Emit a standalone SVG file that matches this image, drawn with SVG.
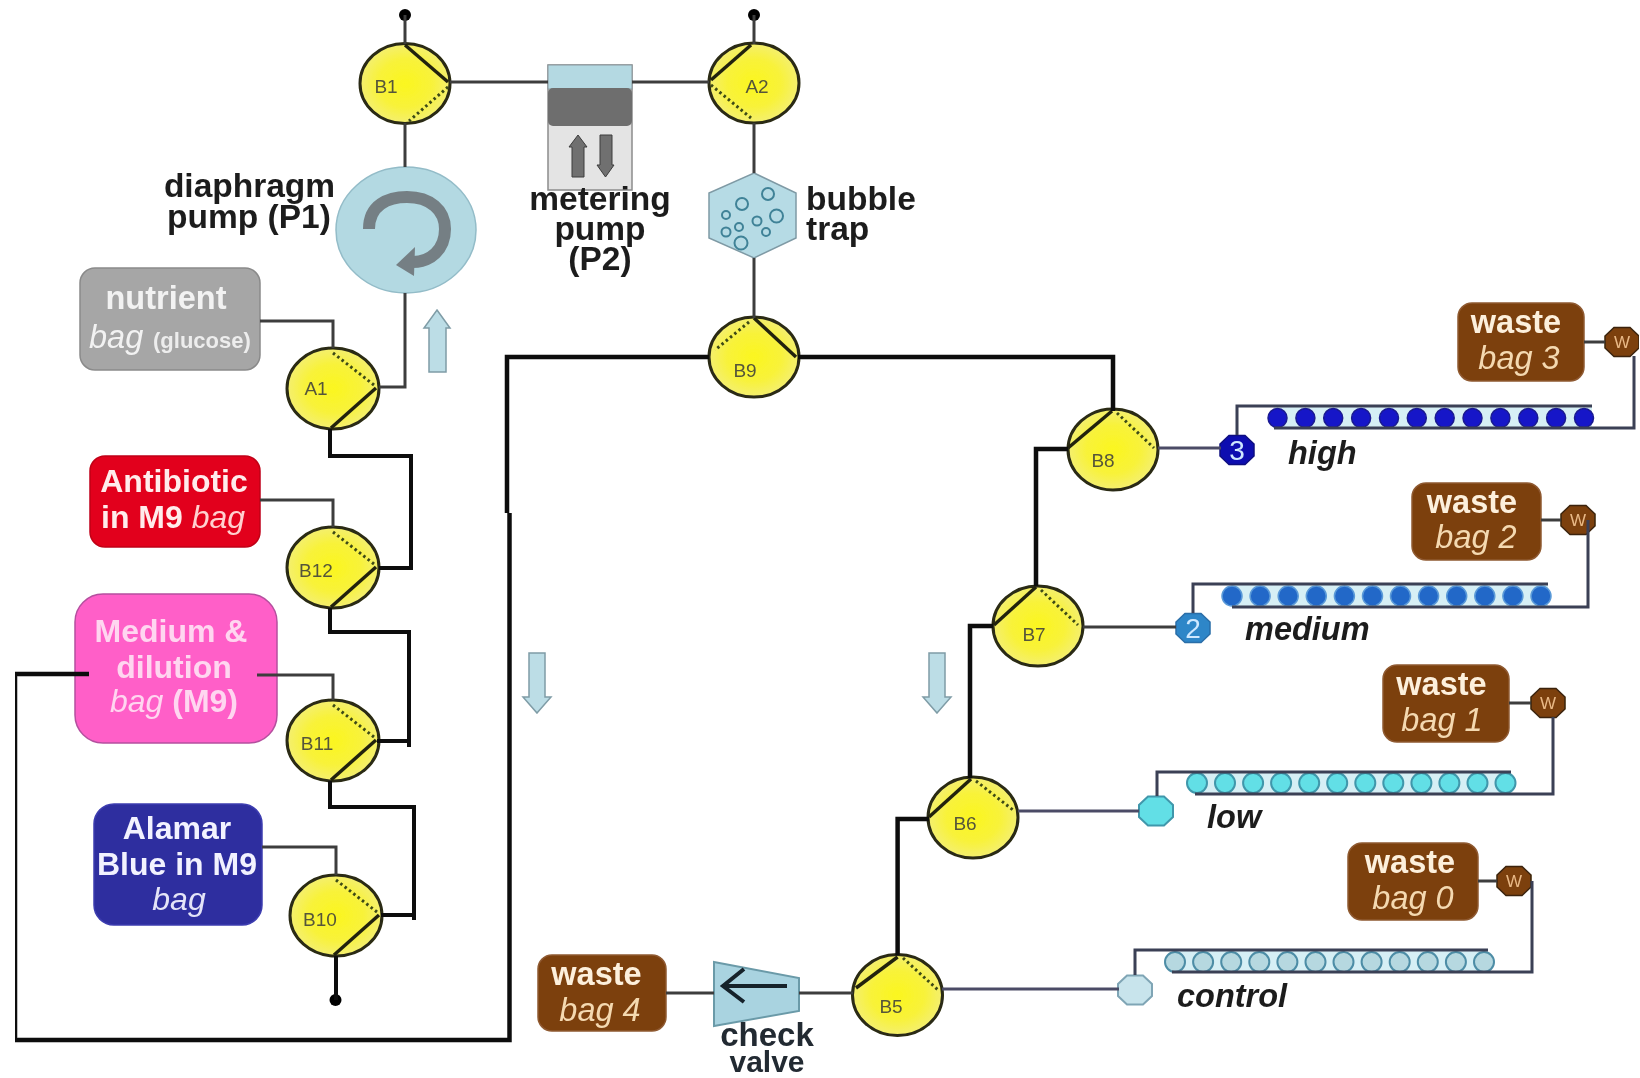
<svg xmlns="http://www.w3.org/2000/svg" width="1640" height="1078" viewBox="0 0 1640 1078">
<style>
text{font-family:"Liberation Sans",Arial,sans-serif}
.lb{font-weight:700;font-size:33.500px;fill:#1f1f1f}
.ct{text-anchor:middle}
.it{font-weight:700;font-style:italic;font-size:32.500px;fill:#1f1f1f}
.wh{font-weight:700;font-size:32.500px;fill:#fdf0dc;text-anchor:middle}
.bg{font-style:italic;font-size:32.500px;fill:#f4d9b0;text-anchor:middle}
.bag{fill:#7c3f10;stroke:#8f5a30;stroke-width:1.5}
.vc{fill:url(#vy);stroke:#2a2a12;stroke-width:3}
.vs{fill:none;stroke:#23240f;stroke-width:3.5}
.vd{fill:none;stroke:#3c4a14;stroke-width:3;stroke-dasharray:2.5 3}
.vt{font-size:19px;fill:#55553a;text-anchor:middle}
.th{fill:none;stroke:#3c3c3c;stroke-width:3}
.tp{fill:none;stroke:#4c4c66;stroke-width:3}
.tk{fill:none;stroke:#111;stroke-width:4.5}
.tm{fill:none;stroke:#111;stroke-width:4}
.bu{fill:none;stroke:#3f8297;stroke-width:2}
.fa{fill:#bcdde6;stroke:#7f9ca6;stroke-width:1.5}
.w{font-size:17px;fill:#e9b985;text-anchor:middle}
.n{font-size:28px;fill:#cfe8ff;text-anchor:middle}
.d3{fill:#1818c8;stroke:#1a1a90;stroke-width:1.5}
.d2{fill:#2468c8;stroke:#5a9ad8;stroke-width:1.5}
.d1{fill:#62dfe6;stroke:#3f97ab;stroke-width:2}
.d0{fill:#b6d8e0;stroke:#4e8da6;stroke-width:2}
.rail{fill:none;stroke:#3a3f55;stroke-width:3}
.cell{fill:#d6eff5}
</style>
<defs>
<radialGradient id="vy"><stop offset="0" stop-color="#fbf61f"/><stop offset=".6" stop-color="#f8f23a"/><stop offset="1" stop-color="#f4ef70"/></radialGradient>
<polygon id="oct" points="-8,-14.500 8,-14.500 17,-6 17,6 8,14.500 -8,14.500 -17,6 -17,-6"/>
<filter id="soft" x="0" y="0" width="100%" height="100%"><feGaussianBlur stdDeviation="0.55"/></filter>
</defs>
<rect width="1640" height="1078" fill="#fff"/>
<g filter="url(#soft)">
<g id="dots-top">
<circle cx="405" cy="15" r="6"/><circle cx="754" cy="15" r="6"/><circle cx="335.500" cy="1000" r="6"/>
</g>
<g id="valve-B1"><ellipse class="vc" cx="405" cy="83.500" rx="45" ry="40"/><path class="vs" d="M405 45L448 82"/><path class="vd" d="M448 87L409 121"/><text class="vt" x="386" y="93">B1</text></g>
<g id="valve-A2"><ellipse class="vc" cx="754" cy="83" rx="45" ry="40"/><path class="vs" d="M751 45L711 80"/><path class="vd" d="M711 85L751 118"/><text class="vt" x="757" y="93">A2</text></g>
<g id="valve-B9"><ellipse class="vc" cx="754" cy="357" rx="45" ry="40"/><path class="vs" d="M754 318L796 357"/><path class="vd" d="M749 322L715 350"/><text class="vt" x="745" y="377">B9</text></g>
<g id="valve-A1"><ellipse class="vc" cx="333" cy="388.500" rx="46" ry="40.500"/><path class="vs" d="M376 388L331 428"/><path class="vd" d="M333 353L374 385"/><text class="vt" x="316" y="395">A1</text></g>
<g id="valve-B12"><ellipse class="vc" cx="333" cy="567.500" rx="46" ry="40.500"/><path class="vs" d="M376 567L331 607"/><path class="vd" d="M333 532L374 564"/><text class="vt" x="316" y="577">B12</text></g>
<g id="valve-B11"><ellipse class="vc" cx="333" cy="740.500" rx="46" ry="40.500"/><path class="vs" d="M376 740L331 780"/><path class="vd" d="M333 705L374 737"/><text class="vt" x="317" y="750">B11</text></g>
<g id="valve-B10"><ellipse class="vc" cx="336" cy="915.500" rx="46" ry="40.500"/><path class="vs" d="M379 915L334 955"/><path class="vd" d="M336 880L377 912"/><text class="vt" x="320" y="926">B10</text></g>
<g id="valve-B8"><ellipse class="vc" cx="1113" cy="449.500" rx="45" ry="40.500"/><path class="vs" d="M1112 411L1068 448"/><path class="vd" d="M1117 413L1154 448"/><text class="vt" x="1103" y="467">B8</text></g>
<g id="valve-B7"><ellipse class="vc" cx="1038" cy="626" rx="45" ry="40"/><path class="vs" d="M1036 587L994 625"/><path class="vd" d="M1041 590L1078 625"/><text class="vt" x="1034" y="641">B7</text></g>
<g id="valve-B6"><ellipse class="vc" cx="973" cy="817.500" rx="45" ry="40.500"/><path class="vs" d="M971 779L929 817"/><path class="vd" d="M976 781L1013 810"/><text class="vt" x="965" y="830">B6</text></g>
<g id="valve-B5"><ellipse class="vc" cx="897.500" cy="995" rx="45" ry="40.500"/><path class="vs" d="M897.600 957L856 988"/><path class="vd" d="M903 958L938 990"/><text class="vt" x="891" y="1013">B5</text></g>
<g id="metering-pump">
<rect x="548" y="65" width="84" height="125" fill="#e4e4e4" stroke="#8c8c8c" stroke-width="1.500"/>
<rect x="548" y="65" width="84" height="24" fill="#b4d9e2" stroke="#8c9aa0" stroke-width="1"/>
<rect x="548" y="88" width="84" height="38" rx="5" fill="#6e6e6e"/>
<polygon points="578,135 587,147 584,147 584,177 572,177 572,147 569,147" fill="#707070" stroke="#3c3c3c"/>
<polygon points="605.500,177 614,165 612,165 612,135 600,135 600,165 597,165" fill="#707070" stroke="#3c3c3c"/>
<text class="lb ct" x="600" y="210">metering</text>
<text class="lb ct" x="600" y="240">pump</text>
<text class="lb ct" x="600" y="270">(P2)</text>
</g>
<g id="diaphragm-pump">
<ellipse cx="406" cy="230" rx="70" ry="63" fill="#b3d9e2" stroke="#93bcc8" stroke-width="1.500"/>
<path d="M369 229C369 205 388 197 407 197C430 197 445 210 445 229C445 250 430 262 413 262" fill="none" stroke="#757f84" stroke-width="12"/>
<polygon points="396,265 415,247 414,276" fill="#757f84"/>
<text class="lb ct" x="249.500" y="197">diaphragm</text>
<text class="lb ct" x="249" y="228">pump (P1)</text>
</g>
<g id="bubble-trap">
<polygon points="754,173 796,193 796,238 754,258 709,238 709,193" fill="#b6dbe5" stroke="#7f9aa5" stroke-width="1.500"/>
<circle class="bu" cx="768" cy="194" r="6"/><circle class="bu" cx="742" cy="204" r="6"/><circle class="bu" cx="776.500" cy="216" r="6.500"/>
<circle class="bu" cx="726" cy="215" r="4"/><circle class="bu" cx="757" cy="221" r="4.500"/><circle class="bu" cx="739" cy="227" r="4"/>
<circle class="bu" cx="726" cy="232" r="4.500"/><circle class="bu" cx="766" cy="232" r="4"/><circle class="bu" cx="741" cy="243" r="6.500"/>
<text class="lb" x="806" y="210">bubble</text>
<text class="lb" x="806" y="240">trap</text>
</g>
<g id="flow-arrows">
<polygon class="fa" points="437,310 450,328 446,328 446,372 429,372 429,328 424,328"/>
<polygon class="fa" points="537,713 551,697 545,697 545,653 529,653 529,697 523,697"/>
<polygon class="fa" points="937,713 951,697 945,697 945,653 929,653 929,697 923,697"/>
</g>
<g id="bag-nutrient">
<rect x="80" y="268" width="180" height="102" rx="15" fill="#a6a6a6" stroke="#8a8a8a" stroke-width="1.500"/>
<text x="166" y="309" font-size="32.500" font-weight="700" fill="#f2f2f2" text-anchor="middle">nutrient</text>
<text x="89" y="348" font-size="32.500" font-style="italic" fill="#f2f2f2">bag</text>
<text x="153" y="348" font-size="22" font-weight="700" fill="#ededed">(glucose)</text>
</g>
<g id="bag-antibiotic">
<rect x="90" y="456" width="170" height="91" rx="15" fill="#e2001a" stroke="#c00018" stroke-width="1.500"/>
<text x="174" y="492" font-size="32" font-weight="700" fill="#ffecec" text-anchor="middle">Antibiotic</text>
<text x="101" y="528" font-size="32" font-weight="700" fill="#ffecec">in M9 <tspan font-style="italic" font-weight="400" fill="#ffd0d0">bag</tspan></text>
</g>
<g id="bag-medium">
<rect x="75" y="594" width="202" height="149" rx="28" fill="#ff5fc8" stroke="#b5509f" stroke-width="1.500"/>
<text x="171" y="642" font-size="32" font-weight="700" fill="#ffd6f0" text-anchor="middle">Medium &amp;</text>
<text x="174" y="678" font-size="32" font-weight="700" fill="#ffd6f0" text-anchor="middle">dilution</text>
<text x="174" y="712" font-size="32" font-weight="700" fill="#ffd6f0" text-anchor="middle"><tspan font-style="italic" font-weight="400">bag</tspan> (M9)</text>
</g>
<g id="bag-alamar">
<rect x="94" y="804" width="168" height="121" rx="20" fill="#2f2f9f" stroke="#3c3cb0" stroke-width="1.500"/>
<text x="177" y="839" font-size="32" font-weight="700" fill="#f2f2ff" text-anchor="middle">Alamar</text>
<text x="177" y="875" font-size="32" font-weight="700" fill="#f2f2ff" text-anchor="middle">Blue in M9</text>
<text x="179" y="910" font-size="32" font-style="italic" fill="#e4e4f8" text-anchor="middle">bag</text>
</g>
<g id="waste-3"><rect class="bag" x="1458" y="303" width="126" height="78" rx="14"/><text class="wh" x="1516" y="333">waste</text><text class="bg" x="1519" y="369">bag 3</text></g>
<g id="waste-2"><rect class="bag" x="1412" y="483" width="129" height="77" rx="14"/><text class="wh" x="1472" y="513">waste</text><text class="bg" x="1476" y="548">bag 2</text></g>
<g id="waste-1"><rect class="bag" x="1383" y="665" width="126" height="77" rx="14"/><text class="wh" x="1441.500" y="695">waste</text><text class="bg" x="1442" y="731">bag 1</text></g>
<g id="waste-0"><rect class="bag" x="1348" y="843" width="130" height="77" rx="14"/><text class="wh" x="1410" y="873">waste</text><text class="bg" x="1413" y="909">bag 0</text></g>
<g id="waste-4"><rect class="bag" x="538" y="955" width="128" height="76" rx="14"/><text class="wh" x="596.500" y="985">waste</text><text class="bg" x="600" y="1021">bag 4</text></g>
<g id="check-valve">
<polygon points="714,962 799,978 799,1011 714,1026" fill="#a9d3e0" stroke="#6b9aa8" stroke-width="2"/>
<path d="M787 986H725M744 969L723 986L744 1002" fill="none" stroke="#18222c" stroke-width="4"/>
<text x="767" y="1046" font-size="33" font-weight="700" fill="#222a33" text-anchor="middle">check</text>
<text x="767" y="1072" font-size="30" font-weight="700" fill="#222a33" text-anchor="middle">valve</text>
</g>
<g id="chamber-high">
<rect class="cell" x="1274" y="406" width="318" height="22"/>
<circle class="d3" cx="1277.500" cy="418" r="9.500"/><circle class="d3" cx="1305.400" cy="418" r="9.500"/><circle class="d3" cx="1333.200" cy="418" r="9.500"/><circle class="d3" cx="1361.100" cy="418" r="9.500"/><circle class="d3" cx="1389" cy="418" r="9.500"/><circle class="d3" cx="1416.800" cy="418" r="9.500"/><circle class="d3" cx="1444.700" cy="418" r="9.500"/><circle class="d3" cx="1472.500" cy="418" r="9.500"/><circle class="d3" cx="1500.400" cy="418" r="9.500"/><circle class="d3" cx="1528.300" cy="418" r="9.500"/><circle class="d3" cx="1556.100" cy="418" r="9.500"/><circle class="d3" cx="1584" cy="418" r="9.500"/>
<use href="#oct" x="1237" y="450" fill="#1010b0" stroke="#0c0c80" stroke-width="1.500"/>
<text class="n" x="1237" y="460">3</text>
<text class="it" x="1288" y="464">high</text>
</g>
<g id="chamber-medium">
<rect class="cell" x="1232" y="584" width="316" height="23"/>
<circle class="d2" cx="1232" cy="596" r="10"/><circle class="d2" cx="1260.100" cy="596" r="10"/><circle class="d2" cx="1288.200" cy="596" r="10"/><circle class="d2" cx="1316.300" cy="596" r="10"/><circle class="d2" cx="1344.400" cy="596" r="10"/><circle class="d2" cx="1372.500" cy="596" r="10"/><circle class="d2" cx="1400.500" cy="596" r="10"/><circle class="d2" cx="1428.600" cy="596" r="10"/><circle class="d2" cx="1456.700" cy="596" r="10"/><circle class="d2" cx="1484.800" cy="596" r="10"/><circle class="d2" cx="1512.900" cy="596" r="10"/><circle class="d2" cx="1541" cy="596" r="10"/>
<use href="#oct" x="1193" y="628" fill="#2e86c8" stroke="#2a6ea8" stroke-width="1.500"/>
<text class="n" x="1193" y="638">2</text>
<text class="it" x="1245" y="640">medium</text>
</g>
<g id="chamber-low">
<rect class="cell" x="1197" y="772" width="314" height="22"/>
<circle class="d1" cx="1197" cy="783" r="10"/><circle class="d1" cx="1225" cy="783" r="10"/><circle class="d1" cx="1253.100" cy="783" r="10"/><circle class="d1" cx="1281.100" cy="783" r="10"/><circle class="d1" cx="1309.200" cy="783" r="10"/><circle class="d1" cx="1337.200" cy="783" r="10"/><circle class="d1" cx="1365.300" cy="783" r="10"/><circle class="d1" cx="1393.300" cy="783" r="10"/><circle class="d1" cx="1421.400" cy="783" r="10"/><circle class="d1" cx="1449.400" cy="783" r="10"/><circle class="d1" cx="1477.500" cy="783" r="10"/><circle class="d1" cx="1505.500" cy="783" r="10"/>
<use href="#oct" x="1156" y="811" fill="#62dfe6" stroke="#3f97ab" stroke-width="2"/>
<text class="it" x="1207" y="828">low</text>
</g>
<g id="chamber-control">
<rect class="cell" x="1175" y="950" width="313" height="22"/>
<circle class="d0" cx="1175" cy="962" r="10"/><circle class="d0" cx="1203.100" cy="962" r="10"/><circle class="d0" cx="1231.200" cy="962" r="10"/><circle class="d0" cx="1259.300" cy="962" r="10"/><circle class="d0" cx="1287.400" cy="962" r="10"/><circle class="d0" cx="1315.500" cy="962" r="10"/><circle class="d0" cx="1343.500" cy="962" r="10"/><circle class="d0" cx="1371.600" cy="962" r="10"/><circle class="d0" cx="1399.700" cy="962" r="10"/><circle class="d0" cx="1427.800" cy="962" r="10"/><circle class="d0" cx="1455.900" cy="962" r="10"/><circle class="d0" cx="1484" cy="962" r="10"/>
<use href="#oct" x="1135" y="990" fill="#c8e4ec" stroke="#7fa5b5" stroke-width="2"/>
<text class="it" x="1177" y="1007">control</text>
</g>
<g id="w-3"><use href="#oct" x="1622" y="342" fill="#7c3f10" stroke="#3a2408" stroke-width="1.500"/><text class="w" x="1622" y="348">W</text></g>
<g id="w-2"><use href="#oct" x="1578" y="520" fill="#7c3f10" stroke="#3a2408" stroke-width="1.500"/><text class="w" x="1578" y="526">W</text></g>
<g id="w-1"><use href="#oct" x="1548" y="703" fill="#7c3f10" stroke="#3a2408" stroke-width="1.500"/><text class="w" x="1548" y="709">W</text></g>
<g id="w-0"><use href="#oct" x="1514" y="881" fill="#7c3f10" stroke="#3a2408" stroke-width="1.500"/><text class="w" x="1514" y="887">W</text></g>
<g id="connectors">
<path class="th" d="M405 15V44M405 123V167M405 293V387H379"/>
<path class="th" d="M450 82H548M632 82H709"/>
<path class="th" d="M754 15V44M754 123V173M754 258V318"/>
<path class="tk" d="M709 357H507V513M509.500 513V1040H15V674H89"/>
<path class="tk" d="M798 357H1113V411"/>
<path class="th" d="M260 321H333V348"/>
<path class="th" d="M260 500H333V527"/>
<path class="th" d="M257 675H333V700"/>
<path class="th" d="M262 847H336V875"/>
<path class="tm" d="M330 429V456H411V568H379"/>
<path class="tm" d="M330 608V632H409V747M409 741H377"/>
<path class="tm" d="M330 781V807H414V920M414 915H381"/>
<path class="tm" d="M336 956V1000"/>
<path class="tk" d="M1068 449H1036V586"/>
<path class="tk" d="M993 626H970V778"/>
<path class="tk" d="M929 819H897.600V955"/>
<path class="tp" d="M1158 448H1221M1018 811H1139M942 989H1119"/>
<path class="th" d="M1083 627H1176"/>
<path class="th" d="M853 993H799M714 993H666"/>
<path class="rail" d="M1237 435V406H1592M1274 428H1634V356"/>
<path class="rail" d="M1193 613V584H1548M1232 607H1588V520"/>
<path class="rail" d="M1157 796V772H1511M1195 794H1553V717"/>
<path class="rail" d="M1135 975V950H1488M1172 972H1532V881"/>
<path class="th" d="M1584 342H1605M1541 520H1561M1509 703H1531M1478 881H1497"/>
</g>
</g>
</svg>
